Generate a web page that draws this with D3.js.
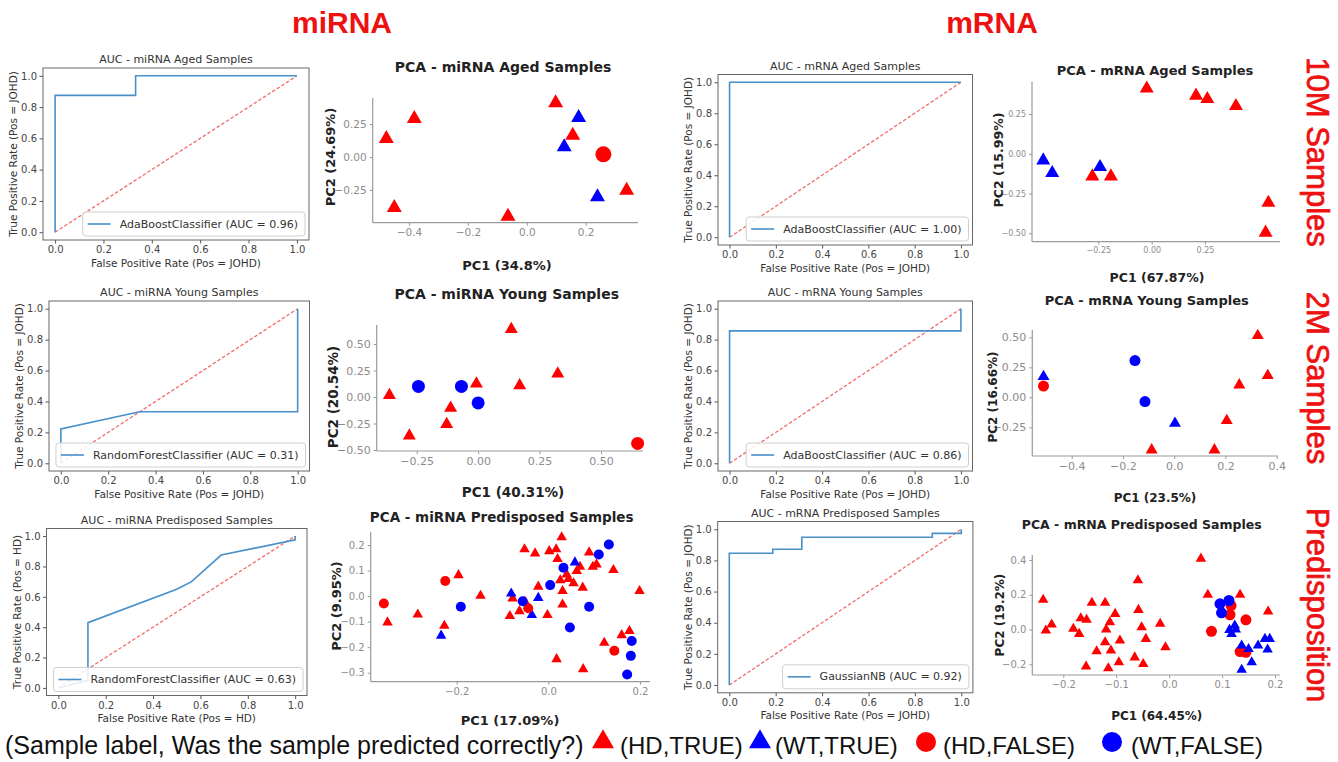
<!DOCTYPE html>
<html><head><meta charset="utf-8">
<script src="https://cdn.jsdelivr.net/npm/d3@7"></script>
<style>body{margin:0;background:#fff}</style>
</head><body>
<svg id="c" width="1338" height="762"></svg>
<script>
// ---------------- DATA ----------------
const rocTicks = [0, 0.2, 0.4, 0.6, 0.8, 1.0];

// ROC curves (FPR, TPR)
const rocMiAgedFpr = [0, 0, 0.333, 0.333, 1];
const rocMiAgedTpr = [0, 0.875, 0.875, 1, 1];
const rocMAgedFpr = [0, 0, 1];
const rocMAgedTpr = [0, 1, 1];
const rocMiYoungFpr = [0, 0, 0.333, 1, 1];
const rocMiYoungTpr = [0, 0.222, 0.333, 0.333, 1];
const rocMYoungFpr = [0, 0, 1, 1];
const rocMYoungTpr = [0, 0.857, 0.857, 1];
const rocMiPredFpr = [0, 0.125, 0.125, 0.5, 0.5625, 0.6875, 1, 1];
const rocMiPredTpr = [0, 0.05, 0.43, 0.65, 0.70, 0.875, 0.975, 1];
const rocMPredFpr = [0, 0, 0.1875, 0.1875, 0.3125, 0.3125, 0.875, 0.875, 1, 1];
const rocMPredTpr = [0, 0.846, 0.846, 0.872, 0.872, 0.949, 0.949, 0.974, 0.974, 1];

// PCA points [PC1, PC2] by group: HT=(HD,TRUE) WT=(WT,TRUE) HF=(HD,FALSE) WF=(WT,FALSE)
const miAgedHT = [[-0.477,0.139],[-0.382,0.29],[-0.45,-0.384],[-0.064,-0.45],[0.098,0.41],[0.156,0.164],[0.339,-0.253]];
const miAgedWT = [[0.176,0.298],[0.127,0.076],[0.24,-0.303]];
const miAgedHF = [[0.26,0.02]];
const miAgedWF = [];

const mAgedHT = [[-0.023,0.41],[0.208,0.365],[0.261,0.344],[0.395,0.30],[-0.278,-0.142],[-0.191,-0.142],[0.547,-0.308],[0.534,-0.496]];
const mAgedWT = [[-0.508,-0.042],[-0.466,-0.121],[-0.242,-0.083]];
const mAgedHF = [];
const mAgedWF = [];

const miYoungHT = [[-0.361,0.016],[-0.28,-0.366],[-0.112,-0.103],[-0.128,-0.256],[-0.007,0.125],[0.135,0.64],[0.169,0.109],[0.324,0.219]];
const miYoungWT = [];
const miYoungHF = [[0.649,-0.4375]];
const miYoungWF = [[-0.243,0.1],[-0.068,0.1],[0.0,-0.056]];

const mYoungHT = [[-0.088,-0.439],[0.157,-0.439],[0.205,-0.194],[0.254,0.103],[0.326,0.514],[0.365,0.181]];
const mYoungWT = [[-0.51,0.172],[0.003,-0.217]];
const mYoungHF = [[-0.51,0.094]];
const mYoungWF = [[-0.153,0.306],[-0.114,-0.036]];

const miPredHT = [[-0.351,-0.103],[-0.285,-0.072],[-0.227,-0.116],[-0.196,0.082],[-0.148,0.001],[-0.084,-0.078],[-0.078,-0.009],[-0.063,-0.059],[-0.051,-0.022],[-0.052,0.183],[-0.029,0.167],[-0.022,0.037],[-0.002,-0.074],[0.002,0.176],[0.017,0.183],[0.02,0.145],[0.029,0.23],[0.018,-0.247],[0.031,-0.033],[0.031,0.02],[0.044,0.067],[0.055,0.05],[0.062,0.098],[0.069,0.115],[0.075,0.033],[0.089,0.171],[0.097,0.115],[0.105,0.124],[0.142,0.102],[0.122,-0.183],[0.076,-0.286],[0.16,-0.153],[0.177,-0.137],[0.199,0.02],[0.04,0.085],[0.026,0.062]];
const miPredWT = [[-0.234,-0.155],[-0.081,0.01],[-0.022,-0.007],[-0.036,-0.074],[0.058,0.132]];
const miPredHF = [[-0.359,-0.029],[-0.225,0.059],[-0.044,-0.048],[0.144,-0.214]];
const miPredWF = [[-0.191,-0.042],[-0.056,-0.02],[0.004,0.043],[0.033,0.111],[0.089,-0.042],[0.047,-0.123],[0.11,0.163],[0.132,0.202],[0.182,-0.176],[0.18,-0.234],[0.172,-0.307]];

const mPredHT = [[-0.238,0.171],[-0.222,0.029],[-0.233,-0.006],[-0.181,0.004],[-0.17,-0.025],[-0.167,0.065],[-0.156,0.056],[-0.157,-0.213],[-0.146,0.154],[-0.137,-0.125],[-0.121,0.154],[-0.119,0.0],[-0.121,-0.073],[-0.115,-0.223],[-0.112,0.042],[-0.11,-0.121],[-0.102,0.09],[-0.095,-0.188],[-0.093,-0.063],[-0.059,0.283],[-0.058,0.113],[-0.065,-0.16],[-0.052,0.013],[-0.049,-0.198],[-0.044,-0.054],[-0.017,0.033],[-0.007,-0.102],[0.06,0.408],[0.073,0.2],[0.134,0.2],[0.187,0.104]];
const mPredHF = [[0.08,-0.01],[0.117,0.138],[0.145,0.056],[0.134,-0.127],[0.145,-0.131],[0.115,0.085]];
const mPredWF = [[0.096,0.148],[0.113,0.167],[0.099,0.096]];
const mPredWT = [[0.114,-0.002],[0.126,0.0],[0.118,-0.025],[0.137,-0.092],[0.15,-0.112],[0.156,-0.188],[0.137,-0.231],[0.168,-0.092],[0.181,-0.054],[0.19,-0.054],[0.186,-0.115],[0.124,0.023]];

const legendLabels = ["(HD,TRUE)", "(WT,TRUE)", "(HD,FALSE)", "(WT,FALSE)"];
const legendGroups = ["HT", "WT", "HF", "WF"];

// ---------------- DRAWING ----------------
const svg = d3.select('#c');
const RED = '#ff0000', BLUE = '#0000ff', TRED = '#ee1111';
const groupColor = {HT: RED, WT: BLUE, HF: RED, WF: BLUE};
const groupShape = {HT: 'tri', WT: 'tri', HF: 'circ', WF: 'circ'};

function txt(g, x, y, s, o) {
  const t = g.append('text').attr('x', x).attr('y', y).text(s)
    .attr('font-family', o.ff || 'DejaVu Sans').attr('font-size', o.fs)
    .attr('font-weight', o.fw || 'normal').attr('fill', o.fill || '#222')
    .attr('text-anchor', o.anchor || 'middle').attr('dominant-baseline', 'central');
  if (o.rot) t.attr('transform', `rotate(${o.rot},${x},${y})`);
  return t;
}

function drawAUC(c) {
  const g = svg.append('g');
  const x = d3.scaleLinear().domain([-0.05, 1.05]).range([c.left, c.right]);
  const y = d3.scaleLinear().domain([-0.05, 1.05]).range([c.bottom, c.top]);
  const fmt = d3.format('.1f');
  const gx = g.append('g').attr('transform', `translate(0,${c.bottom})`)
    .call(d3.axisBottom(x).tickValues(rocTicks).tickFormat(fmt).tickSize(3.5).tickPadding(2.5));
  const gy = g.append('g').attr('transform', `translate(${c.left},0)`)
    .call(d3.axisLeft(y).tickValues(rocTicks).tickFormat(fmt).tickSize(3.5).tickPadding(2.5));
  [gx, gy].forEach(a => {
    a.select('.domain').remove();
    a.selectAll('line').attr('stroke', '#555');
    a.selectAll('text').attr('font-family', 'DejaVu Sans').attr('font-size', 10).attr('fill', '#444');
  });
  const line = d3.line().x(d => x(d[0])).y(d => y(d[1]));
  g.append('path').attr('d', line([[0, 0], [1, 1]])).attr('fill', 'none')
    .attr('stroke', '#f26b6b').attr('stroke-width', 1.3).attr('stroke-dasharray', '3.5,2');
  const pts = c.fpr.map((f, i) => [f, c.tpr[i]]);
  g.append('path').attr('d', line(pts)).attr('fill', 'none')
    .attr('stroke', '#4890c9').attr('stroke-width', 1.6);
  g.append('rect').attr('x', c.left).attr('y', c.top).attr('width', c.right - c.left)
    .attr('height', c.bottom - c.top).attr('fill', 'none').attr('stroke', '#666').attr('stroke-width', 1);
  txt(g, (c.left + c.right) / 2, c.top - 8.5, c.title, {fs: 11, fill: '#333'});
  txt(g, (c.left + c.right) / 2, c.bottom + 22.5, c.xlab, {fs: 10.5, fill: '#333'});
  txt(g, c.left - 30, (c.top + c.bottom) / 2, c.ylab, {fs: 10.5, fill: '#333', rot: -90});
  const lg = g.append('g');
  const box = lg.append('rect');
  const lt = txt(lg, 0, 0, c.leg, {fs: 11, fill: '#333', anchor: 'start'});
  const len = lt.node().getComputedTextLength();
  const bw = 37 + len + 7, bh = 24;
  const bx = c.right - 4 - bw, by = c.bottom - 4 - bh;
  box.attr('x', bx).attr('y', by).attr('width', bw).attr('height', bh).attr('rx', 3)
    .attr('fill', 'rgba(255,255,255,0.85)').attr('stroke', '#cfcfcf');
  lt.attr('x', bx + 37).attr('y', by + bh / 2);
  lg.append('line').attr('x1', bx + 5).attr('x2', bx + 28).attr('y1', by + bh / 2).attr('y2', by + bh / 2)
    .attr('stroke', '#4890c9').attr('stroke-width', 1.6);
}

function drawMarker(g, cx, cy, grp, triW, r) {
  if (groupShape[grp] === 'tri') {
    const size = Math.sqrt(3) / 4 * triW * triW;
    g.append('path').attr('d', d3.symbol(d3.symbolTriangle, size)())
      .attr('transform', `translate(${cx},${cy})`).attr('fill', groupColor[grp]);
  } else {
    g.append('circle').attr('cx', cx).attr('cy', cy).attr('r', r).attr('fill', groupColor[grp]);
  }
}

function drawPCA(c) {
  const g = svg.append('g');
  const x = d3.scaleLinear().domain(c.xRefV).range(c.xRefP);
  const y = d3.scaleLinear().domain(c.yRefV).range(c.yRefP);
  const gx = g.append('g').attr('transform', `translate(0,${c.bottom})`)
    .call(d3.axisBottom(x).tickValues(c.xTicks).tickFormat(d3.format(c.xFmt)).tickSize(3).tickPadding(3));
  const gy = g.append('g').attr('transform', `translate(${c.left},0)`)
    .call(d3.axisLeft(y).tickValues(c.yTicks).tickFormat(d3.format(c.yFmt)).tickSize(3).tickPadding(3));
  [gx, gy].forEach(a => {
    a.select('.domain').remove();
    a.selectAll('line').attr('stroke', '#9a9a9a');
    a.selectAll('text').attr('font-family', 'DejaVu Sans').attr('font-size', c.tickFs).attr('fill', '#8c8c8c');
  });
  g.append('line').attr('x1', c.left).attr('x2', c.right).attr('y1', c.bottom).attr('y2', c.bottom)
    .attr('stroke', '#9a9a9a').attr('stroke-width', 1.2);
  g.append('line').attr('x1', c.left).attr('x2', c.left).attr('y1', c.top).attr('y2', c.bottom)
    .attr('stroke', '#9a9a9a').attr('stroke-width', 1.2);
  c.groups.forEach(([grp, arr]) => {
    arr.forEach(p => drawMarker(g, x(p[0]), y(p[1]), grp, c.triW, c.r));
  });
  txt(g, c.title[1], c.title[2], c.title[0], {fs: c.titleFs, fw: 'bold', fill: '#222'});
  txt(g, c.xlab[1], c.xlab[2], c.xlab[0], {fs: c.labFs, fw: 'bold', fill: '#222'});
  txt(g, c.ylab[1], c.ylab[2], c.ylab[0], {fs: c.labFs, fw: 'bold', fill: '#222', rot: -90});
}

const XL = 'False Positive Rate (Pos = JOHD)', YL = 'True Positive Rate (Pos = JOHD)';

drawAUC({left: 43, top: 68, right: 309, bottom: 240, fpr: rocMiAgedFpr, tpr: rocMiAgedTpr,
  title: 'AUC - miRNA Aged Samples', xlab: XL, ylab: YL, leg: 'AdaBoostClassifier (AUC = 0.96)'});
drawAUC({left: 718, top: 74.5, right: 972.5, bottom: 245, fpr: rocMAgedFpr, tpr: rocMAgedTpr,
  title: 'AUC - mRNA Aged Samples', xlab: XL, ylab: YL, leg: 'AdaBoostClassifier (AUC = 1.00)'});
drawAUC({left: 49, top: 301, right: 309.5, bottom: 471, fpr: rocMiYoungFpr, tpr: rocMiYoungTpr,
  title: 'AUC - miRNA Young Samples', xlab: XL, ylab: YL, leg: 'RandomForestClassifier (AUC = 0.31)'});
drawAUC({left: 718, top: 301, right: 972.5, bottom: 471, fpr: rocMYoungFpr, tpr: rocMYoungTpr,
  title: 'AUC - mRNA Young Samples', xlab: XL, ylab: YL, leg: 'AdaBoostClassifier (AUC = 0.86)'});
drawAUC({left: 46.5, top: 528.5, right: 307, bottom: 695.5, fpr: rocMiPredFpr, tpr: rocMiPredTpr,
  title: 'AUC - miRNA Predisposed Samples', xlab: 'False Positive Rate (Pos = HD)', ylab: 'True Positive Rate (Pos = HD)',
  leg: 'RandomForestClassifier (AUC = 0.63)'});
drawAUC({left: 717.7, top: 521.5, right: 972.9, bottom: 692.8, fpr: rocMPredFpr, tpr: rocMPredTpr,
  title: 'AUC - mRNA Predisposed Samples', xlab: XL, ylab: YL, leg: 'GaussianNB (AUC = 0.92)'});

drawPCA({xRefV: [-0.4, 0.2], xRefP: [409, 585.7], yRefV: [0.25, -0.25], yRefP: [124, 190],
  left: 372.7, right: 638, top: 98, bottom: 222.7,
  xTicks: [-0.4, -0.2, 0, 0.2], yTicks: [-0.25, 0, 0.25], xFmt: '.1f', yFmt: '.2f', tickFs: 10.5,
  groups: [['HT', miAgedHT], ['WT', miAgedWT], ['HF', miAgedHF], ['WF', miAgedWF]], triW: 15, r: 8,
  title: ['PCA - miRNA Aged Samples', 503, 67], titleFs: 14, labFs: 13,
  xlab: ['PC1 (34.8%)', 507, 265], ylab: ['PC2 (24.69%)', 330, 157]});
drawPCA({xRefV: [-0.25, 0.25], xRefP: [1098.3, 1205], yRefV: [0.25, -0.5], yRefP: [114, 233.3],
  left: 1032, right: 1280, top: 81.7, bottom: 241.7,
  xTicks: [-0.25, 0, 0.25], yTicks: [0.25, 0, -0.25, -0.5], xFmt: '.2f', yFmt: '.2f', tickFs: 8,
  groups: [['HT', mAgedHT], ['WT', mAgedWT], ['HF', mAgedHF], ['WF', mAgedWF]], triW: 14, r: 7,
  title: ['PCA - mRNA Aged Samples', 1155, 70.7], titleFs: 13, labFs: 12.5,
  xlab: ['PC1 (67.87%)', 1157, 277], ylab: ['PC2 (15.99%)', 998, 160]});
drawPCA({xRefV: [-0.25, 0.5], xRefP: [416.7, 601], yRefV: [0.5, -0.5], yRefP: [344, 450],
  left: 376.7, right: 643, top: 325, bottom: 451,
  xTicks: [-0.25, 0, 0.25, 0.5], yTicks: [0.5, 0.25, 0, -0.25, -0.5], xFmt: '.2f', yFmt: '.2f', tickFs: 11,
  groups: [['HT', miYoungHT], ['WT', miYoungWT], ['HF', miYoungHF], ['WF', miYoungWF]], triW: 13, r: 6.5,
  title: ['PCA - miRNA Young Samples', 506.7, 294], titleFs: 14, labFs: 13.5,
  xlab: ['PC1 (40.31%)', 513, 492], ylab: ['PC2 (20.54%)', 333, 397]});
drawPCA({xRefV: [-0.4, 0.4], xRefP: [1071.7, 1276.7], yRefV: [0.5, -0.25], yRefP: [337.3, 427.3],
  left: 1032.3, right: 1278, top: 330, bottom: 456,
  xTicks: [-0.4, -0.2, 0, 0.2, 0.4], yTicks: [0.5, 0.25, 0, -0.25], xFmt: '.1f', yFmt: '.2f', tickFs: 11,
  groups: [['HT', mYoungHT], ['WF', mYoungWF], ['WT', mYoungWT], ['HF', mYoungHF]], triW: 12, r: 5.5,
  title: ['PCA - mRNA Young Samples', 1146.7, 300.7], titleFs: 13, labFs: 12,
  xlab: ['PC1 (23.5%)', 1155, 498], ylab: ['PC2 (16.66%)', 993, 397]});
drawPCA({xRefV: [-0.2, 0.2], xRefP: [456.7, 640], yRefV: [0.2, -0.3], yRefP: [545, 672.7],
  left: 370.7, right: 650, top: 531.7, bottom: 681.7,
  xTicks: [-0.2, 0, 0.2], yTicks: [0.2, 0.1, 0, -0.1, -0.2, -0.3], xFmt: '.1f', yFmt: '.1f', tickFs: 10,
  groups: [['HT', miPredHT], ['WT', miPredWT], ['HF', miPredHF], ['WF', miPredWF]], triW: 10.5, r: 5,
  title: ['PCA - miRNA Predisposed Samples', 501.7, 516.7], titleFs: 13.5, labFs: 13,
  xlab: ['PC1 (17.09%)', 510, 720], ylab: ['PC2 (9.95%)', 336.7, 606]});
drawPCA({xRefV: [-0.2, 0.2], xRefP: [1063.3, 1275], yRefV: [0.4, -0.2], yRefP: [560, 664.3],
  left: 1032.3, right: 1280, top: 555, bottom: 675,
  xTicks: [-0.2, -0.1, 0, 0.1, 0.2], yTicks: [0.4, 0.2, 0, -0.2], xFmt: '.1f', yFmt: '.1f', tickFs: 10,
  groups: [['HT', mPredHT], ['HF', mPredHF], ['WF', mPredWF], ['WT', mPredWT]], triW: 10.5, r: 5.5,
  title: ['PCA - mRNA Predisposed Samples', 1141.7, 524.3], titleFs: 12.5, labFs: 12,
  xlab: ['PC1 (64.45%)', 1156.7, 715.7], ylab: ['PC2 (19.2%)', 1000, 615]});

// Column headers
txt(svg, 342, 22, 'miRNA', {ff: 'Liberation Sans', fs: 30, fw: 'bold', fill: TRED});
txt(svg, 992, 22, 'mRNA', {ff: 'Liberation Sans', fs: 30, fw: 'bold', fill: TRED});
// Row labels
[['10M Samples', 152], ['2M Samples', 378], ['Predisposition', 605]].forEach(([s, yy]) => {
  txt(svg, 1317, yy, s, {ff: 'Liberation Sans', fs: 31, fill: TRED, rot: 90})
    .attr('stroke', TRED).attr('stroke-width', 0.7);
});

// Bottom legend
const lgG = svg.append('g');
txt(lgG, 5, 745, '(Sample label, Was the sample predicted correctly?)', {ff: 'Liberation Sans', fs: 25, fill: '#111', anchor: 'start'});
const legMarkX = [603, 760, 926, 1112];
const legTextX = [620, 775, 943, 1131];
legendGroups.forEach((grp, i) => {
  drawMarker(lgG, legMarkX[i], 742, grp, 22, 10);
  txt(lgG, legTextX[i], 745, legendLabels[i], {ff: 'Liberation Sans', fs: 24, fill: '#111', anchor: 'start'});
});
</script>
</body></html>
